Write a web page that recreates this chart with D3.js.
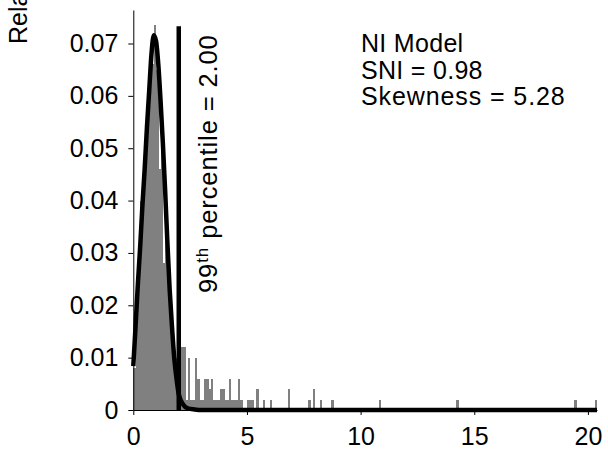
<!DOCTYPE html>
<html>
<head>
<meta charset="utf-8">
<script src="https://cdn.jsdelivr.net/npm/d3@7/dist/d3.min.js"></script>
<style>
  html, body { margin: 0; padding: 0; background: #fff; }
  svg { display: block; font-family: "Liberation Sans", Arial, Helvetica, sans-serif; }
</style>
</head>
<body>
<svg id="chart" width="608" height="452"></svg>
<script>
// ---- Data ----
const binWidth = 0.1;
// histogram: bin start (x) and relative frequency
const binStarts = [0.0,0.1,0.2,0.3,0.4,0.5,0.6,0.7,0.8,0.9,1.0,1.1,1.2,1.3,1.4,1.5,1.6,1.7,1.8,1.9,
  2.0,2.1,2.2,2.3,2.4,2.5,2.6,2.7,2.8,2.9,3.0,3.1,3.2,3.3,3.4,3.5,3.6,3.7,3.8,3.9,4.0,4.1,4.2,4.3,4.4,4.5,4.6,4.7,
  5.0,5.1,5.2,5.4,5.7,6.0,6.8,7.7,7.9,8.2,8.7,10.8,14.2,19.4,20.3];
const binFreqs = [0.008,0.020,0.027,0.040,0.040,0.047,0.055,0.060,0.066,0.0735,0.065,0.046,0.050,0.028,0.032,0.022,0.016,0.012,0.008,0.010,
  0.012,0.012,0.012,0.002,0.010,0.002,0.002,0.010,0.006,0.002,0.002,0.006,0.006,0.004,0.006,0.002,0.002,0.002,0.004,0.004,0.002,0.002,0.006,0.002,0.002,0.002,0.006,0.002,
  0.002,0.002,0.002,0.004,0.002,0.002,0.004,0.002,0.004,0.002,0.002,0.002,0.002,0.002,0.002];
// fitted curve points (x, relative frequency)
const curveX = [0,0.1,0.2,0.3,0.4,0.5,0.6,0.7,0.8,0.9,1.0,1.1,1.2,1.3,1.4,1.5,1.6,1.7,1.8,1.9,2.0,2.2,2.4,2.7,3.0,20.4];
const curveY = [0.0084,0.016,0.024,0.031,0.039,0.046,0.054,0.061,0.068,0.0716,0.0705,0.066,0.059,0.051,0.042,0.032,0.023,0.016,0.010,0.006,0.003,0.001,0.0003,0.0001,0,0];
const percentile99 = 2.00;
const xTicks = [0, 5, 10, 15, 20];
const yTicks = [0, 0.01, 0.02, 0.03, 0.04, 0.05, 0.06, 0.07];
const infoLines = ["NI Model", "SNI = 0.98", "Skewness = 5.28"];
const yLabel = "Relative frequency";

// ---- Layout ----
const svg = d3.select("#chart");
const mLeft = 133.3, mRight = 597, mTop = 10, mBottom = 410;
const x = d3.scaleLinear().domain([0, 20.4]).range([mLeft, mRight]);
const y = d3.scaleLinear().domain([0, 0.0764]).range([mBottom, mTop]);
const FS = 25;

// histogram
svg.append("g").attr("shape-rendering", "crispEdges").selectAll("rect")
  .data(binStarts.map((s, i) => ({x0: s, v: binFreqs[i]})))
  .join("rect")
  .attr("x", d => x(d.x0))
  .attr("width", d => x(d.x0 + binWidth) - x(d.x0) + 0.3)
  .attr("y", d => y(d.v))
  .attr("height", d => y(0) - y(d.v))
  .attr("fill", "#808080");

// axes
const xAxis = d3.axisBottom(x).tickValues(xTicks).tickFormat(d3.format("d"))
  .tickSize(5).tickPadding(12).tickSizeOuter(0);
const yAxis = d3.axisLeft(y).tickValues(yTicks)
  .tickFormat(d => d === 0 ? "0" : d3.format(".2f")(d))
  .tickSize(5).tickPadding(10).tickSizeOuter(0);

const gx = svg.append("g").attr("transform", `translate(0,${mBottom})`).call(xAxis);
const gy = svg.append("g").attr("transform", `translate(${mLeft},0)`).call(yAxis);
[gx, gy].forEach(g => {
  g.selectAll("text").attr("font-size", FS).attr("fill", "#000")
    .attr("font-family", "Liberation Sans, Arial, sans-serif");
  g.selectAll("line, path").attr("stroke", "#000").attr("stroke-width", 1);
});

// fitted curve
const line = d3.line().x(d => x(d[0])).y(d => y(d[1])).curve(d3.curveMonotoneX);
svg.append("path")
  .datum(curveX.map((v, i) => [v, curveY[i]]))
  .attr("d", line)
  .attr("fill", "none")
  .attr("stroke", "#000")
  .attr("stroke-width", 4.5)
  .attr("stroke-linejoin", "round");

// 99th percentile line
svg.append("line")
  .attr("x1", x(percentile99)).attr("x2", x(percentile99))
  .attr("y1", y(0)).attr("y2", y(0.0733))
  .attr("stroke", "#000").attr("stroke-width", 4.5);

// rotated percentile label
const pt = svg.append("text")
  .attr("transform", `translate(217,293) rotate(-90)`)
  .attr("font-size", 25.5).attr("letter-spacing", 0.9).attr("fill", "#000");
pt.append("tspan").text("99");
pt.append("tspan").attr("font-size", 17).attr("dy", -9).text("th");
pt.append("tspan").attr("dy", 9).text(" percentile = " + percentile99.toFixed(2));

// info text
svg.append("g").selectAll("text")
  .data(infoLines)
  .join("text")
  .attr("x", 361)
  .attr("y", (d, i) => 52 + i * 26.5)
  .attr("font-size", FS)
  .attr("letter-spacing", (d, i) => i === 2 ? 0.9 : 0.3)
  .attr("fill", "#000")
  .text(d => d);

// y label (clipped at top, as in the reference)
svg.append("text")
  .attr("transform", `translate(27,44) rotate(-90)`)
  .attr("font-size", FS).attr("fill", "#000")
  .attr("text-anchor", "start")
  .text(yLabel);
</script>
</body>
</html>
